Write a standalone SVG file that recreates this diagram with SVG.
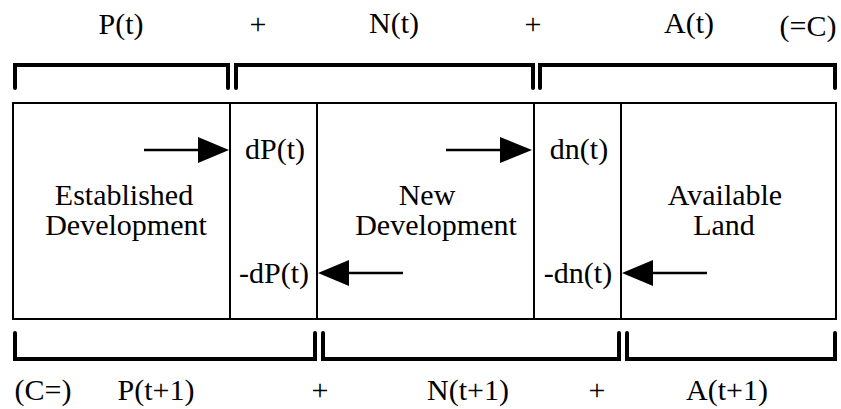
<svg xmlns="http://www.w3.org/2000/svg" width="841" height="409" viewBox="0 0 841 409">
<style>
text{font-family:'Liberation Serif',serif;font-size:30px;fill:#000;text-anchor:middle}
.box{fill:#fff;stroke:#000;stroke-width:2}
.br{fill:none;stroke:#000;stroke-width:4;stroke-linecap:round;stroke-linejoin:miter}
.ar{stroke:#000;stroke-width:2.5;fill:none}
</style>
<rect width="841" height="409" fill="#fff"/>
<g id="labels-top">
<text x="121" y="34">P(t)</text>
<text x="258" y="34">+</text>
<text x="394" y="33">N(t)</text>
<text x="533" y="34">+</text>
<text x="689" y="33">A(t)</text>
<text x="808" y="36">(=C)</text>
</g>
<g id="brackets-top">
<path class="br" d="M15,88 V65 H228 V88"/>
<path class="br" d="M236,88 V65 H533 V88"/>
<path class="br" d="M540,88 V65 H835 V88"/>
</g>
<g id="established">
<rect class="box" x="13" y="103" width="217" height="216"/>
<text x="124" y="205">Established</text>
<text x="126" y="235">Development</text>
</g>
<g id="dP">
<rect class="box" x="230" y="103" width="87" height="216"/>
<text x="275" y="159">dP(t)</text>
<text x="274" y="283">-dP(t)</text>
</g>
<g id="new">
<rect class="box" x="317" y="103" width="217" height="216"/>
<text x="427" y="205">New</text>
<text x="436" y="235">Development</text>
</g>
<g id="dn">
<rect class="box" x="534" y="103" width="87" height="216"/>
<text x="579" y="159">dn(t)</text>
<text x="578" y="283">-dn(t)</text>
</g>
<g id="available">
<rect class="box" x="621" y="103" width="215" height="216"/>
<text x="725" y="205">Available</text>
<text x="724" y="235">Land</text>
</g>
<g id="connectors">
<line class="ar" x1="144" y1="150" x2="200" y2="150"/>
<path d="M198,137 L229,150 L198,163 Z" fill="#000"/>
<line class="ar" x1="446" y1="150" x2="502" y2="150"/>
<path d="M500,137 L532,150 L500,163 Z" fill="#000"/>
<line class="ar" x1="403" y1="273" x2="345" y2="273"/>
<path d="M349,260 L318,273 L349,286 Z" fill="#000"/>
<line class="ar" x1="707" y1="273" x2="650" y2="273"/>
<path d="M653,260 L622,273 L653,286 Z" fill="#000"/>
</g>
<g id="brackets-bottom">
<path class="br" d="M15,333 V359 H315 V333"/>
<path class="br" d="M323,333 V359 H619 V333"/>
<path class="br" d="M627,333 V359 H835 V333"/>
</g>
<g id="labels-bottom">
<text x="43" y="400">(C=)</text>
<text x="156" y="400">P(t+1)</text>
<text x="320" y="400">+</text>
<text x="468" y="400">N(t+1)</text>
<text x="597" y="400">+</text>
<text x="727" y="400">A(t+1)</text>
</g>
</svg>
